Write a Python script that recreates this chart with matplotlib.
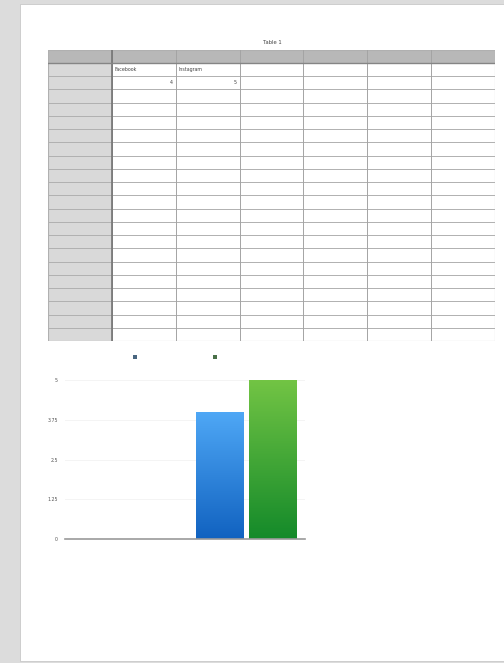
import numpy as np
import matplotlib
matplotlib.use('Agg')
import matplotlib.pyplot as plt
from matplotlib.patches import Rectangle

# data
series_names = ['Facebook', 'Instagram']
series_values = [4, 5]
category_count = 2          # first category is empty, bars sit in the second
y_ticks = [0, 1.25, 2.5, 3.75, 5]
y_tick_labels = ['0', '1.25', '2.5', '3.75', '5']
table_title = 'Table 1'
n_table_cols = 7
n_table_rows = 21           # body rows below the grey header row

W, H = 504, 663


def px_axes(fig, x0, y0, x1, y1):
    """Add axes given in pixel coordinates (origin top-left)."""
    return fig.add_axes([x0 / W, 1 - y1 / H, (x1 - x0) / W, (y1 - y0) / H])


fig = plt.figure(figsize=(W / 100, H / 100), dpi=100)
fig.patch.set_facecolor('#dcdcdc')

# white page
page = px_axes(fig, 0, 0, W, H)
page.set_xlim(0, W)
page.set_ylim(H, 0)
page.axis('off')
page.add_patch(Rectangle((20, 4), 490, 657, facecolor='white',
                         edgecolor='#c8c8c8', linewidth=0.6))

# ---- table ----
page.text(272, 42, table_title, fontsize=3.8, color='#444444',
          ha='center', va='center')

tab = px_axes(fig, 48, 50, 495, 341)
tab.set_xlim(0, n_table_cols)
# header row is a little shorter than body rows
hdr = 0.98
tab.set_ylim(n_table_rows + hdr, 0)
tab.axis('off')

tab.add_patch(Rectangle((0, 0), n_table_cols, hdr, facecolor='#b8b8b8',
                        edgecolor='none'))
tab.add_patch(Rectangle((0, hdr), 1, n_table_rows, facecolor='#d9d9d9',
                        edgecolor='none'))
for r in range(1, n_table_rows + 1):
    tab.axhline(hdr + r, color='#b0b0b0', linewidth=0.7)
for c in range(1, n_table_cols):
    tab.axvline(c, color='#a4a4a4', linewidth=0.7)
tab.axvline(1, color='#747474', linewidth=1.2)
tab.axhline(hdr, color='#858585', linewidth=1.0)
tab.add_patch(Rectangle((0, 0), n_table_cols, n_table_rows + hdr,
                        facecolor='none', edgecolor='#b0b0b0', linewidth=0.8))

for i, (name, val) in enumerate(zip(series_names, series_values)):
    tab.text(1 + i + 0.04, hdr + 0.5, name, fontsize=3.4, color='#444444',
             ha='left', va='center')
    tab.text(2 + i - 0.04, hdr + 1.5, str(val), fontsize=3.4, color='#444444',
             ha='right', va='center')

# ---- chart ----
ax = px_axes(fig, 65, 380, 305, 539)
ax.set_facecolor('none')
bar_w = 0.4
offsets = [-0.21, 0.23]
gradients = [('#4fa8f6', '#1162c0'), ('#72c444', '#148a2a')]
x_center = category_count - 0.5
bars = ax.bar([x_center + o for o in offsets], series_values, width=bar_w,
              color='none', edgecolor='none', zorder=3)

for patch, (top, bottom) in zip(bars.patches, gradients):
    x0, y0 = patch.get_x(), patch.get_y()
    w, h = patch.get_width(), patch.get_height()
    c_top = np.array(matplotlib.colors.to_rgb(top))
    c_bot = np.array(matplotlib.colors.to_rgb(bottom))
    t = np.linspace(0, 1, 128)[:, None]
    img = (c_top * (1 - t) + c_bot * t)[:, None, :]
    im = ax.imshow(img, extent=[x0, x0 + w, y0, y0 + h], aspect='auto',
                   origin='upper', zorder=3)
    im.set_clip_path(patch)

ax.set_xlim(0, category_count)
ax.set_ylim(0, 5)

ax.set_yticks(y_ticks)
ax.set_yticklabels(y_tick_labels)
ax.set_xticks([])
ax.tick_params(axis='y', length=0, pad=5, labelsize=3.4, labelcolor='#555555')
for s in ['top', 'right', 'left']:
    ax.spines[s].set_visible(False)
ax.spines['bottom'].set_color('#9a9a9a')
ax.spines['bottom'].set_linewidth(1.2)
ax.spines['bottom'].set_zorder(4)
ax.yaxis.grid(True, color='#f2f2f2', linewidth=0.6)
ax.set_axisbelow(True)

# legend swatches above the chart
legend_colors = ['#4a6680', '#4a7048']
for xp, col in zip([135, 215], legend_colors):
    page.add_patch(Rectangle((xp - 2, 355), 4, 4, facecolor=col,
                             edgecolor='none'))

fig.savefig('out.png', dpi=100, facecolor=fig.get_facecolor())
